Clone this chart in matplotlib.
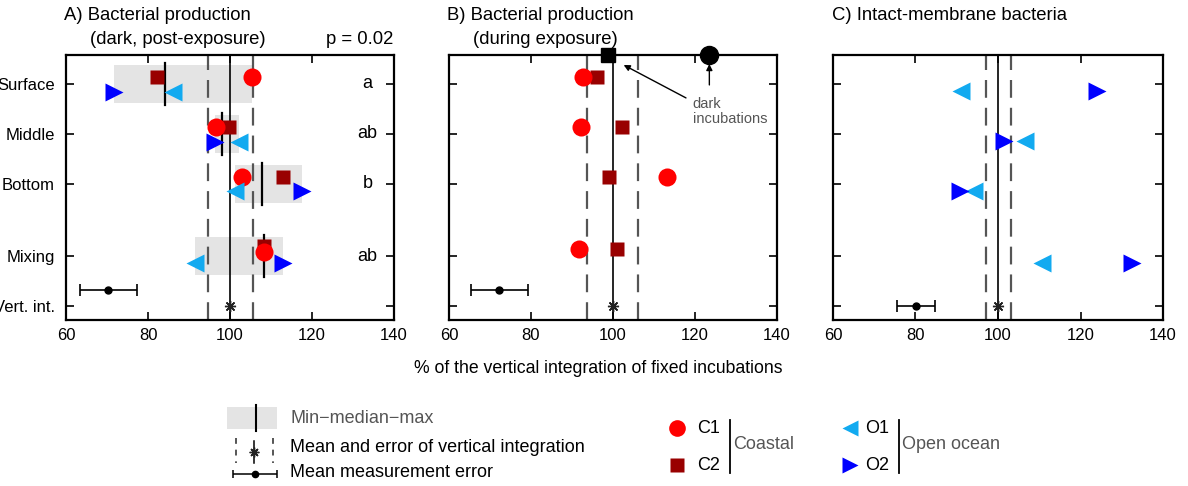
import numpy as np
import matplotlib.pyplot as plt
from matplotlib.patches import Rectangle

plt.rcParams['font.family'] = ['Liberation Sans', 'DejaVu Sans']

# rows of each panel
categories = ['Surface', 'Middle', 'Bottom', 'Mixing', 'Vert. int.']
cat_pos = [0, 1, 2, 3.45, 4.45]

# A) bacterial production, dark post-exposure (% of vertical integration)
a_c1 = [105.3, 96.5, 102.9, 108.2]
a_c2 = [82.1, 99.7, 112.9, 108.3]
a_o1 = [86.0, 102.2, 101.2, 91.4]
a_o2 = [71.8, 96.3, 117.6, 112.9]
a_letters = ['a', 'ab', 'b', 'ab']
a_vint = [100.0, 94.6, 105.6]     # mean, low, high
a_err = [70.3, 6.9]               # mean measurement error (centre, half width)

# B) bacterial production during exposure
b_c1 = [92.6, 92.1, 113.2, 91.6]
b_c2 = [96.0, 102.2, 99.0, 100.9]
b_dark_c2 = 98.7
b_dark_c1 = 123.5
b_vint = [100.0, 93.6, 106.2]
b_err = [72.3, 6.9]

# C) intact-membrane bacteria
c_o1 = [91.1, 106.5, 94.3, 110.6]
c_o2 = [124.0, 101.4, 90.9, 132.5]
c_vint = [99.9, 97.2, 103.1]
c_err = [80.2, 4.6]

col_c1 = '#ff0000'
col_c2 = '#990000'
col_o1 = '#12aaf0'
col_o2 = '#0000ff'
box_gray = '#e4e4e4'
dash_gray = '#555555'
text_gray = '#555555'

W, H = 1188, 486
fig = plt.figure(figsize=(W / 100, H / 100), dpi=100)


def px_axes(x0, x1, y0, y1):
    return fig.add_axes([x0 / W, 1 - y1 / H, (x1 - x0) / W, (y1 - y0) / H])


def setup(ax, ylabels):
    ax.set_xlim(60, 140)
    ax.set_ylim(4.73, -0.58)
    ax.set_xticks([60, 80, 100, 120, 140])
    ax.set_yticks(cat_pos)
    if ylabels:
        ax.set_yticklabels(categories, fontsize=13)
    else:
        ax.set_yticklabels([])
    ax.tick_params(direction='in', length=6, width=1.2, top=True, right=True,
                   labelsize=12, pad=6)
    ax.tick_params(axis='y', pad=8)
    for s in ax.spines.values():
        s.set_linewidth(1.6)


def vint_lines(ax, vint, err, err_y):
    ax.axvline(vint[0], color='k', lw=1.2, zorder=2)
    for v in vint[1:]:
        ax.axvline(v, color=dash_gray, lw=1.6, ls=(0, (8, 4.5)), zorder=2)
    ax.plot(vint[0], cat_pos[4], marker=(8, 2, 0), ms=8, color='#222222', mew=1.0, zorder=4)
    ax.errorbar(err[0], err_y, xerr=err[1], fmt='o', ms=5, color='k',
                capsize=4, lw=1.2, capthick=1.2, zorder=4)


def pts(ax, xs, offs, marker, color, ms):
    ys = [p + o for p, o in zip(cat_pos[:4], offs)]
    ax.plot(xs, ys, ls='none', marker=marker, color=color, ms=ms, mec='none', zorder=5)


# ---------- panel A
axA = px_axes(66, 394, 55, 320)
setup(axA, True)
for i in range(4):
    vals = [a_c1[i], a_c2[i], a_o1[i], a_o2[i]]
    lo, hi, med = min(vals), max(vals), np.median(vals)
    axA.add_patch(Rectangle((lo, cat_pos[i] - 0.38), hi - lo, 0.76,
                            facecolor=box_gray, edgecolor='none', zorder=1))
    axA.plot([med, med], [cat_pos[i] - 0.42, cat_pos[i] + 0.42], color='k', lw=1.6, zorder=3)
    axA.text(133.5, cat_pos[i], a_letters[i], ha='center', va='center', fontsize=13)
vint_lines(axA, a_vint, a_err, 4.13)
pts(axA, a_c2, [-0.13, -0.14, -0.14, -0.2], 's', col_c2, 10.5)
pts(axA, a_c1, [-0.13, -0.14, -0.14, -0.08], 'o', col_c1, 13)
pts(axA, a_o1, [0.16, 0.16, 0.14, 0.14], '<', col_o1, 12.5)
pts(axA, a_o2, [0.16, 0.16, 0.14, 0.14], '>', col_o2, 12.5)

# ---------- panel B
axB = px_axes(449, 777, 55, 320)
setup(axB, False)
vint_lines(axB, b_vint, b_err, 4.13)
pts(axB, b_c2, [-0.14] * 4, 's', col_c2, 10.5)
pts(axB, b_c1, [-0.14] * 4, 'o', col_c1, 13)
top = axB.get_ylim()[1]
axB.plot(b_dark_c2, top, 's', color='k', ms=10, clip_on=False, zorder=6)
axB.plot(b_dark_c1, top, 'o', color='k', ms=13, clip_on=False, zorder=6)
arr = dict(arrowstyle='-|>', color='k', lw=1.0, mutation_scale=9, shrinkA=0, shrinkB=0)
axB.annotate('', xy=(102.6, -0.38), xytext=(117.8, 0.28), arrowprops=arr)
axB.annotate('', xy=(b_dark_c1, -0.40), xytext=(b_dark_c1, 0.02), arrowprops=arr)
axB.text(119.4, 0.56, 'dark\nincubations', ha='left', va='center', fontsize=10.5,
         color=text_gray, linespacing=1.1)

# ---------- panel C
axC = px_axes(833, 1163, 55, 320)
setup(axC, False)
vint_lines(axC, c_vint, c_err, 4.45)
pts(axC, c_o1, [0.14] * 4, '<', col_o1, 12.5)
pts(axC, c_o2, [0.14] * 4, '>', col_o2, 12.5)

# ---------- titles and shared label
def ftext(x, y, s, **kw):
    kw.setdefault('fontsize', 13.3)
    fig.text(x / W, 1 - y / H, s, va='center', **kw)

ftext(64, 16, 'A) Bacterial production')
ftext(90, 40, '(dark, post-exposure)')
ftext(393, 40, 'p = 0.02', ha='right')
ftext(447, 16, 'B) Bacterial production')
ftext(473, 39, '(during exposure)')
ftext(832, 16, 'C) Intact-membrane bacteria')
ftext(598, 368, '% of the vertical integration of fixed incubations', ha='center', fontsize=12.7)

# ---------- legend (drawn in figure pixel space)
lg = fig.add_axes([0, 0, 1, 1])
lg.set_xlim(0, W)
lg.set_ylim(H, 0)
lg.axis('off')
lg.add_patch(Rectangle((227, 407), 50, 22, facecolor=box_gray, edgecolor='none'))
lg.plot([256, 256], [405, 431], color='k', lw=1.5)
lg.plot([236, 236], [438, 463], color=dash_gray, lw=1.4, ls=(0, (3, 3)))
lg.plot([273, 273], [438, 463], color=dash_gray, lw=1.4, ls=(0, (3, 3)))
lg.plot([254, 254], [441, 463], color='k', lw=1.1)
lg.plot(254, 452, marker=(8, 2, 0), ms=7, color='#222222', mew=1.0)
lg.errorbar(255, 474, xerr=22, fmt='o', ms=4.5, color='k', capsize=3, lw=1.1, capthick=1.1)
lfs = 13
lg.text(290, 418, 'Min\u2212median\u2212max', va='center', fontsize=lfs, color=text_gray)
lg.text(290, 447, 'Mean and error of vertical integration', va='center', fontsize=lfs)
lg.text(290, 472, 'Mean measurement error', va='center', fontsize=lfs)

lg.plot(677, 428, 'o', color=col_c1, ms=12, mec='none')
lg.plot(677, 465, 's', color=col_c2, ms=10, mec='none')
lg.text(697, 428, 'C1', va='center', fontsize=lfs)
lg.text(697, 465, 'C2', va='center', fontsize=lfs)
lg.plot([730, 730], [420, 473], color='k', lw=1.3)
lg.text(733, 444, 'Coastal', va='center', fontsize=lfs, color=text_gray)

lg.plot(850, 428, '<', color=col_o1, ms=12, mec='none')
lg.plot(850, 465, '>', color=col_o2, ms=12, mec='none')
lg.text(865, 428, 'O1', va='center', fontsize=lfs)
lg.text(865, 465, 'O2', va='center', fontsize=lfs)
lg.plot([899, 899], [420, 473], color='k', lw=1.3)
lg.text(902, 444, 'Open ocean', va='center', fontsize=lfs, color=text_gray)

fig.savefig('out.png', dpi=100)
